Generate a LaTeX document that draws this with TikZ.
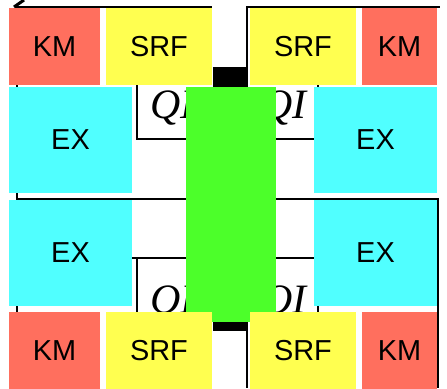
\documentclass[tikz,border=0pt]{standalone}
\usepackage{fontspec}
\setmainfont{Liberation Sans}
\newfontfamily\qifont{Liberation Serif}
\usepackage{tikz}

\definecolor{kmred}{RGB}{255,111,94}
\definecolor{srfyellow}{RGB}{255,255,80}
\definecolor{excyan}{RGB}{80,255,255}
\definecolor{linacgreen}{RGB}{76,255,42}

\begin{document}
\begin{tikzpicture}[x=1bp, y=-1bp,
    box/.style={inner sep=0pt, font=\fontsize{29}{30}\selectfont},
    km/.style={box, fill=kmred, minimum height=77bp},
    srf/.style={box, fill=srfyellow, minimum width=106bp, minimum height=77bp},
    ex/.style={box, fill=excyan, minimum height=106bp},
    qi/.style={inner sep=0pt, font=\fontsize{42}{44}\selectfont\qifont\itshape},
    wire/.style={line width=2bp}]
    \useasboundingbox (0, 0) rectangle (447, 388);

    % frame lines behind the boxes
    \draw[line width=3bp] (14, 7) -- (24, 0);
    \draw[wire] (15, 7) -- (212, 7);
    \draw[wire] (247, 67) -- (247, 7) -- (440, 7);
    \draw[wire] (17, 7) -- (17, 199) -- (438, 199) -- (438, 388);
    \draw[wire] (17, 199) -- (17, 388);
    \draw[wire] (318, 80) -- (318, 92);
    \draw[wire] (318, 300) -- (318, 316);
    \draw[wire] (137, 80) -- (137, 139) -- (314, 139);
    \draw[wire] (120, 258) -- (314, 258);
    \draw[wire] (137, 258) -- (137, 316);
    \draw[wire] (247, 331) -- (247, 388);

    % quadrupole labels
    \node[qi, anchor=base west] (qiul) at (150, 118) {QI};
    \node[qi, anchor=base east] (qiur) at (307, 118) {QI};
    \node[qi, anchor=base west] (qill) at (150, 313) {QI};
    \node[qi, anchor=base east] (qilr) at (307, 313) {QI};

    % beam line and couplers
    \node[fill=linacgreen, inner sep=0pt, minimum width=90bp, minimum height=235bp] (beam) at (231, 204.5) {};
    \node[fill=black, inner sep=0pt, minimum width=35bp, minimum height=20bp] (cpltop) at (230.5, 77) {};
    \node[fill=black, inner sep=0pt, minimum width=35bp, minimum height=9bp] (cplbot) at (230.5, 326.5) {};

    % top row
    \node[km, minimum width=91bp] (kmtl) at (54.5, 46.5) {KM};
    \node[srf] (srftl) at (159, 46.5) {SRF};
    \node[srf] (srftr) at (303, 46.5) {SRF};
    \node[km, minimum width=75bp] (kmtr) at (399.5, 46.5) {KM};

    % cavities
    \node[ex, minimum width=123bp] (exul) at (70.5, 140) {EX};
    \node[ex, minimum width=123bp] (exur) at (375.5, 140) {EX};
    \node[ex, minimum width=123bp] (exll) at (70.5, 253) {EX};
    \node[ex, minimum width=123bp] (exlr) at (375.5, 253) {EX};

    % bottom row
    \node[km, minimum width=91bp] (kmbl) at (54.5, 350.5) {KM};
    \node[srf] (srfbl) at (159, 350.5) {SRF};
    \node[srf] (srfbr) at (303, 350.5) {SRF};
    \node[km, minimum width=75bp] (kmbr) at (399.5, 350.5) {KM};
\end{tikzpicture}
\end{document}
